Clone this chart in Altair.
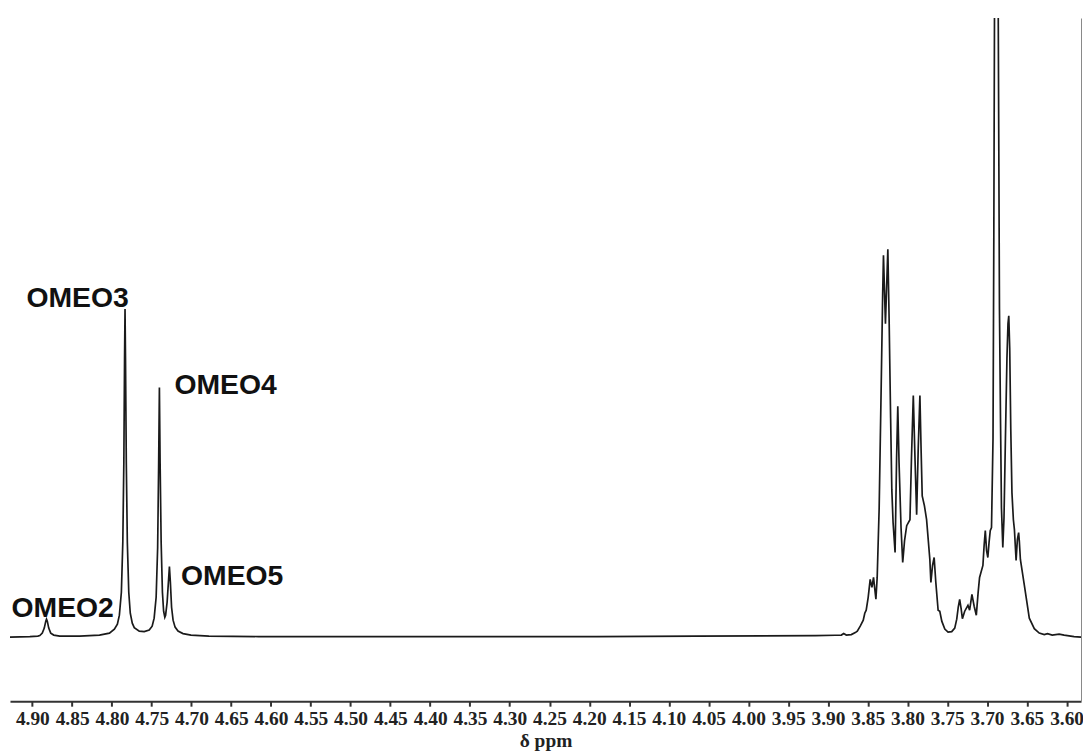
import altair as alt
import pandas as pd

# 1H NMR spectrum: chemical shift (ppm) and intensity (arbitrary units)
ppm = [
    4.9281, 4.9031, 4.8931, 4.8906, 4.8875, 4.8850, 4.8831, 4.8822, 4.8812, 4.8794,
    4.8769, 4.8731, 4.8656, 4.8406, 4.8156, 4.8031, 4.7969, 4.7931, 4.7906, 4.7881,
    4.7863, 4.7850, 4.7841, 4.7835, 4.7829, 4.7819, 4.7806, 4.7788, 4.7769, 4.7744,
    4.7719, 4.7656, 4.7594, 4.7531, 4.7494, 4.7469, 4.7444, 4.7425, 4.7413, 4.7403,
    4.7394, 4.7381, 4.7365, 4.7350, 4.7335, 4.7325, 4.7306, 4.7290, 4.7277, 4.7265,
    4.7250, 4.7231, 4.7206, 4.7169, 4.7106, 4.7006, 4.6781, 4.6156, 4.4406, 4.1906,
    4.0656, 3.9156, 3.8906,
    3.8831, 3.8802, 3.8769, 3.8706, 3.8656, 3.8631, 3.8594, 3.8556, 3.8537, 3.8519,
    3.8494, 3.8469, 3.8447, 3.8427, 3.8397, 3.8381, 3.8356, 3.8331, 3.8312, 3.8302,
    3.8277, 3.8247, 3.8231, 3.8212, 3.8197, 3.8181, 3.8156, 3.8137, 3.8122, 3.8106,
    3.8081, 3.8060, 3.8037, 3.8010, 3.7969, 3.7950, 3.7927, 3.7906, 3.7885, 3.7865,
    3.7844, 3.7828, 3.7815, 3.7787, 3.7760, 3.7719, 3.7706, 3.7685, 3.7665, 3.7644,
    3.7615, 3.7594, 3.7569, 3.7531, 3.7490, 3.7444, 3.7406, 3.7381, 3.7362, 3.7344,
    3.7325, 3.7310, 3.7281, 3.7240, 3.7219, 3.7190, 3.7162, 3.7135, 3.7112, 3.7094,
    3.7052, 3.7037, 3.7022, 3.7006, 3.6990, 3.6975, 3.6960, 3.6944, 3.6925, 3.6915,
    3.6906, 3.6894, 3.6872, 3.6860, 3.6844, 3.6831, 3.6819, 3.6802, 3.6787, 3.6769,
    3.6750, 3.6737, 3.6727, 3.6715, 3.6702, 3.6687, 3.6669, 3.6656, 3.6635, 3.6619,
    3.6603, 3.6594, 3.6581, 3.6531, 3.6469, 3.6406, 3.6344, 3.6281, 3.6240, 3.6181,
    3.6094, 3.6031, 3.5906, 3.5819,
]
intensity = [
    0, 0.5, 1, 1.5, 4, 9, 16, 18, 16, 9,
    4, 2, 1, 1, 2, 4, 8, 13, 22, 45,
    95, 175, 280, 330, 280, 175, 95, 45, 24, 14,
    9.5, 6, 5.5, 7, 11, 19, 40, 90, 170, 251,
    175, 95, 45, 26, 20, 22, 35, 55, 71, 55,
    30, 17, 10, 6, 3.5, 2, 1, 0.5, 0.5, 0.5,
    1, 1.5, 1.8,
    2, 3.5, 2, 2.5, 4.5, 6, 11, 17, 24, 27,
    40, 58, 50, 60, 38, 60, 130, 250, 345, 384,
    315, 390, 320, 220, 148, 115, 85, 180, 232, 175,
    110, 75, 97, 112, 118, 180, 243, 180, 123, 190,
    243, 185, 142, 132, 118, 78, 55, 72, 80, 55,
    27, 26, 16, 8, 5, 5.5, 9, 18, 30, 38,
    28, 18.5, 26, 32, 27, 43, 31, 22, 45, 60,
    72, 92, 107, 87, 80, 95, 107, 110, 200, 400,
    640, 800, 800, 640, 330, 220, 130, 90, 120, 200,
    280, 315, 323, 290, 210, 145, 118, 108, 77, 98,
    105, 96, 78, 52, 19, 8.5, 4, 2.5, 3.5, 2,
    3, 2, 0.5, 0,
]

# peak annotations
labels = ["OMEO2", "OMEO3", "OMEO4", "OMEO5"]
label_ppm = [4.8619, 4.8431, 4.6571, 4.6488]
label_int = [20.5, 331.8, 244.5, 52.5]

# axis ticks
tick_values = [3.60, 3.65, 3.70, 3.75, 3.80, 3.85, 3.90, 3.95, 4.00, 4.05, 4.10,
               4.15, 4.20, 4.25, 4.30, 4.35, 4.40, 4.45, 4.50, 4.55, 4.60, 4.65,
               4.70, 4.75, 4.80, 4.85, 4.90]

spectrum = pd.DataFrame({"ppm": ppm, "intensity": intensity})
annot = pd.DataFrame({"ppm": label_ppm, "intensity": label_int, "label": labels})

x_scale = alt.Scale(domain=[3.5819, 4.9281], reverse=True, nice=False, zero=False)
y_scale = alt.Scale(domain=[-64.5, 622.5], nice=False, zero=False)

x_axis = alt.Axis(
    values=tick_values, format=".2f", title="δ ppm",
    labelFont="Liberation Serif", labelFontWeight="bold", labelFontSize=19.5,
    labelColor="#222222", labelBaseline="alphabetic", labelPadding=18.5,
    labelOverlap=False, labelFlush=False,
    tickSize=5, tickWidth=2, tickColor="#333333",
    domainColor="#333333", domainWidth=2, grid=False,
    titleFont="Liberation Serif", titleFontWeight="bold", titleFontSize=19.5,
    titleColor="#222222", titleBaseline="alphabetic", titleY=45.3,
)
y_axis = alt.Axis(orient="right", labels=False, ticks=False, title="", grid=False,
                  domainColor="#888888", domainWidth=1)

line = alt.Chart(spectrum).mark_line(color="#1a1a1a", strokeWidth=1.7, clip=True).encode(
    x=alt.X("ppm:Q", scale=x_scale, axis=x_axis),
    y=alt.Y("intensity:Q", scale=y_scale, axis=y_axis),
    order=alt.Order("ppm:Q"),
)

text = alt.Chart(annot).mark_text(
    font="Liberation Sans", fontWeight="bold", fontSize=28.5,
    align="center", baseline="alphabetic", color="#111111",
).encode(
    x=alt.X("ppm:Q", scale=x_scale),
    y=alt.Y("intensity:Q", scale=y_scale),
    text="label:N",
)

chart = alt.layer(line, text).properties(
    width=1077, height=687,
    padding={"left": 2, "top": 8, "right": 2, "bottom": 50},
    autosize=alt.AutoSizeParams(type="none"),
    background="white",
).configure_view(strokeWidth=0)

chart.save("out.html", embed_options={"renderer": "svg", "actions": False})
